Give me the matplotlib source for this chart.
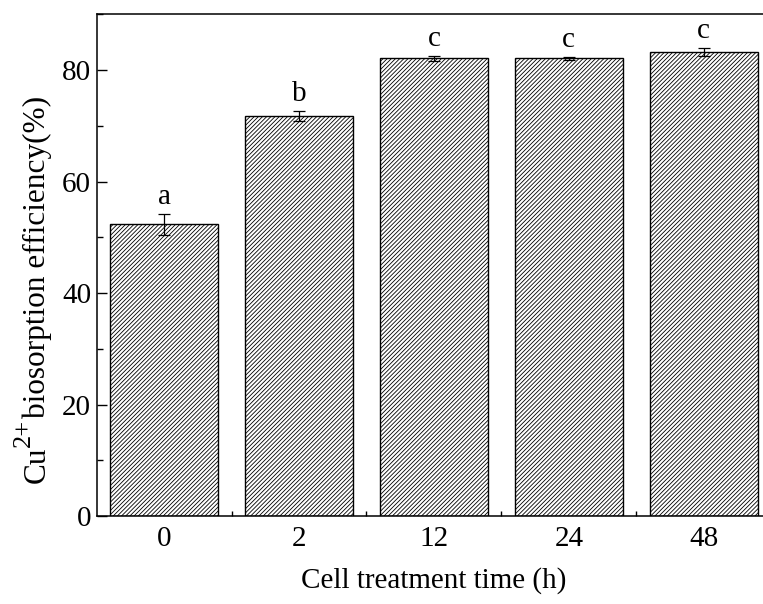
import numpy as np
import matplotlib
matplotlib.use('Agg')
import matplotlib.pyplot as plt
from matplotlib.ticker import MultipleLocator, FixedLocator

plt.rcParams['font.family'] = ['Liberation Serif', 'DejaVu Serif']
plt.rcParams['hatch.linewidth'] = 0.6

# data
times = ['0', '2', '12', '24', '48']
efficiency = [52.3, 71.8, 82.1, 82.1, 83.3]
errors = [1.9, 0.9, 0.5, 0.3, 0.7]
letters = ['a', 'b', 'c', 'c', 'c']

W, H = 763, 604
fig = plt.figure(figsize=(W / 100, H / 100), dpi=100)
ax = fig.add_axes([0.1267, 0.1457, 0.884, 0.8306])

index = np.arange(len(times))
ax.bar(index, efficiency, 0.8, color='white', edgecolor='black',
       linewidth=1.0, hatch='////////')
ax.errorbar(index, efficiency, yerr=errors, fmt='none', ecolor='black',
            elinewidth=0.9, capsize=4, capthick=0.9)

for i in range(len(times)):
    ax.annotate(letters[i], (index[i], efficiency[i] + errors[i]),
                xytext=(0, 7), textcoords='offset points',
                ha='center', va='baseline', fontsize=21)

ax.set_xlim(-0.5, 4.5)
ax.set_ylim(0, 90)
ax.set_xticks(index)
ax.set_xticklabels(times)
ax.xaxis.set_minor_locator(FixedLocator(index[:-1] + 0.5))
ax.yaxis.set_major_locator(MultipleLocator(20))
ax.yaxis.set_minor_locator(MultipleLocator(10))

ax.tick_params(axis='both', which='both', direction='in', labelsize=21, width=1.0)
ax.tick_params(axis='x', which='major', length=0, pad=7)
ax.tick_params(axis='x', which='minor', length=3.6)
ax.tick_params(axis='y', which='major', length=7, pad=4)
ax.tick_params(axis='y', which='minor', length=4)

for s in ax.spines.values():
    s.set_linewidth(1.1)
ax.spines['right'].set_visible(False)

ax.set_xlabel('Cell treatment time (h)', fontsize=21, labelpad=11)

# y label built from pieces so the superscript stays large
fig.text(45 / W, 1 - 483 / H, 'Cu', rotation=90, rotation_mode='anchor',
         ha='left', va='baseline', fontsize=22.5)
fig.text(30 / W, 1 - 447 / H, '2+', rotation=90, rotation_mode='anchor',
         ha='left', va='baseline', fontsize=19)
fig.text(45 / W, 1 - 418 / H, 'biosorption efficiency(%)', rotation=90,
         rotation_mode='anchor', ha='left', va='baseline', fontsize=22.5)

fig.savefig('out.png', dpi=100)
